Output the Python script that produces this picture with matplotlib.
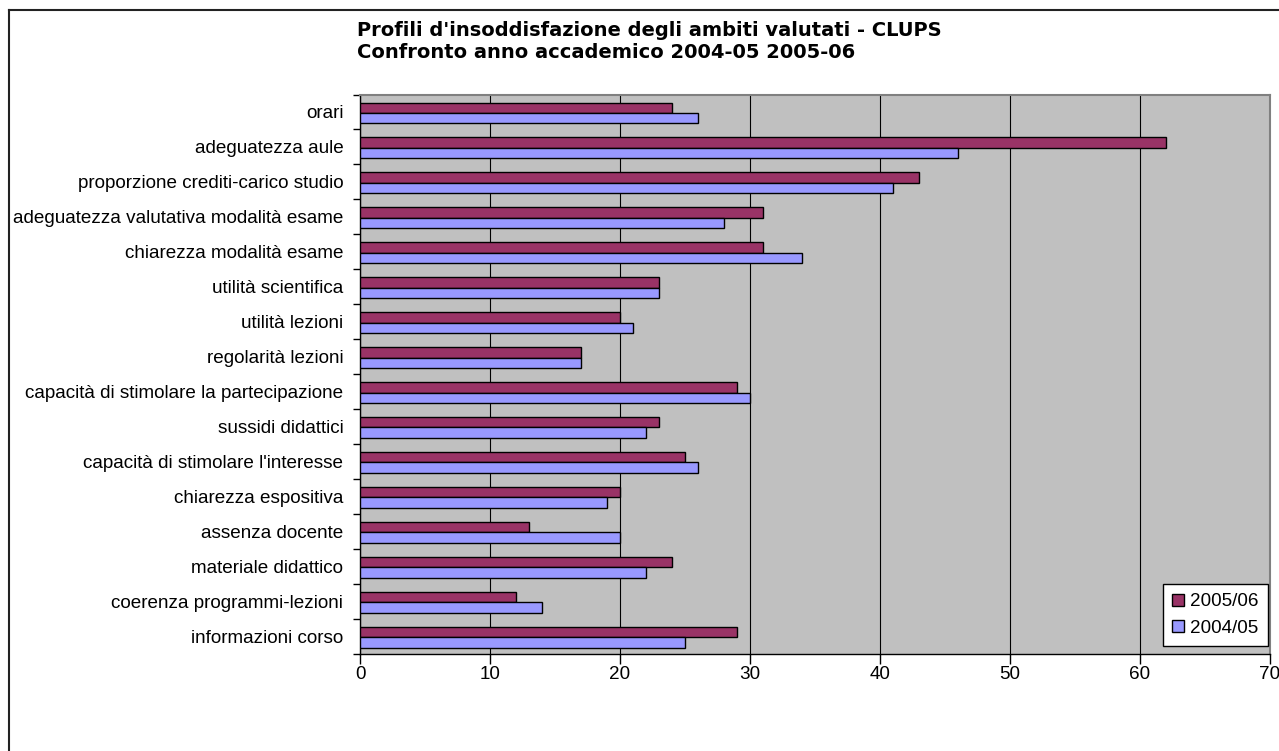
import matplotlib
matplotlib.use("Agg")
import matplotlib.pyplot as plt
import numpy as np
from matplotlib.lines import Line2D

categories = [
    "orari",
    "adeguatezza aule",
    "proporzione crediti-carico studio",
    "adeguatezza valutativa modalità esame",
    "chiarezza modalità esame",
    "utilità scientifica",
    "utilità lezioni",
    "regolarità lezioni",
    "capacità di stimolare la partecipazione",
    "sussidi didattici",
    "capacità di stimolare l'interesse",
    "chiarezza espositiva",
    "assenza docente",
    "materiale didattico",
    "coerenza programmi-lezioni",
    "informazioni corso",
]
values_2005_06 = [24, 62, 43, 31, 31, 23, 20, 17, 29, 23, 25, 20, 13, 24, 12, 29]
values_2004_05 = [26, 46, 41, 28, 34, 23, 21, 17, 30, 22, 26, 19, 20, 22, 14, 25]
series_labels = ["2005/06", "2004/05"]
xticks = [0, 10, 20, 30, 40, 50, 60, 70]
title_lines = ["Profili d'insoddisfazione degli ambiti valutati - CLUPS",
               "Confronto anno accademico 2004-05 2005-06"]

W, H = 1279, 751
fig = plt.figure(figsize=(W / 100, H / 100), dpi=100)
fig.patch.set_facecolor("white")

left, right, top, bottom = 360, 1270, 94.5, 653.5
ax = fig.add_axes([left / W, 1 - bottom / H, (right - left) / W, (bottom - top) / H])
ax.set_facecolor("#C0C0C0")

y = np.arange(len(categories))
h = 0.30
c1, c2 = "#993366", "#9999FF"
ax.barh(y - h / 2 + 0.03, values_2005_06, height=h, color=c1, edgecolor="black",
        linewidth=1.0, label=series_labels[0], zorder=3)
ax.barh(y + h / 2 + 0.03, values_2004_05, height=h, color=c2, edgecolor="black",
        linewidth=1.0, label=series_labels[1], zorder=3)

fs = 13.6
ax.set_xlim(0, 70)
ax.set_ylim(len(categories) - 0.5, -0.5)
ax.set_xticks(xticks)
ax.set_xticklabels([str(t) for t in xticks], fontsize=fs, family="Liberation Sans")
ax.set_yticks(y)
ax.set_yticklabels(categories, fontsize=fs, family="Liberation Sans")
ax.set_yticks(np.arange(len(categories) + 1) - 0.5, minor=True)
ax.tick_params(axis="y", which="major", length=0, pad=12)
ax.tick_params(axis="y", which="minor", length=5, width=1, direction="out", color="black")
ax.tick_params(axis="x", which="major", length=7, width=1, direction="out", color="black", pad=2)

ax.xaxis.grid(True, color="black", linewidth=0.8, zorder=1)
ax.set_axisbelow(True)
for s in ["left", "bottom"]:
    ax.spines[s].set_color("black")
    ax.spines[s].set_linewidth(1.0)
for s in ["top", "right"]:
    ax.spines[s].set_color("#808080")
    ax.spines[s].set_linewidth(1.5)

leg = ax.legend(loc="lower right", bbox_to_anchor=(0.998, 0.013), borderaxespad=0,
                frameon=True, fancybox=False, edgecolor="black", framealpha=1,
                prop={"family": "Liberation Sans", "size": fs},
                handlelength=0.6, handleheight=0.6, handletextpad=0.35,
                labelspacing=0.5, borderpad=0.5)
leg.get_frame().set_linewidth(1.0)

fig.text(357 / W, 1 - 30 / H, title_lines[0], fontsize=14, fontweight="bold",
         family="DejaVu Sans", ha="left", va="center")
fig.text(357 / W, 1 - 52 / H, title_lines[1], fontsize=14, fontweight="bold",
         family="DejaVu Sans", ha="left", va="center")

# outer chart border (top and left visible)
fig.add_artist(Line2D([9 / W, 1.0], [1 - 10 / H, 1 - 10 / H], transform=fig.transFigure,
                      color="#222222", linewidth=1.5))
fig.add_artist(Line2D([9 / W, 9 / W], [0, 1 - 10 / H], transform=fig.transFigure,
                      color="#222222", linewidth=1.5))

fig.savefig("out.png", dpi=100)
